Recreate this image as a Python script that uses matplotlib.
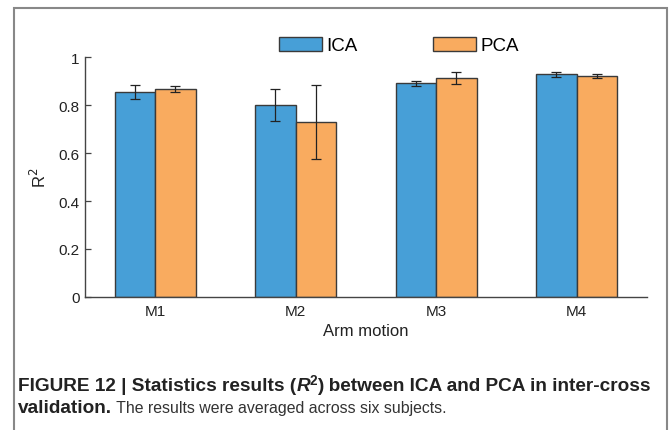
import matplotlib
matplotlib.use('Agg')
import matplotlib.pyplot as plt
import numpy as np
from matplotlib import font_manager
from matplotlib.patches import Rectangle

plt.rcParams['font.family'] = ['Liberation Sans', 'DejaVu Sans']

motions = ['M1', 'M2', 'M3', 'M4']
ica_mean = [0.855, 0.800, 0.890, 0.928]
ica_err = [0.028, 0.068, 0.012, 0.010]
pca_mean = [0.867, 0.730, 0.911, 0.922]
pca_err = [0.013, 0.155, 0.025, 0.009]

blue = '#479fd7'
orange = '#f9ab5f'
edge = '#3a3a3a'

fig = plt.figure(figsize=(6.69, 4.31), dpi=100)
ax = fig.add_axes([0.127, 0.3086, 0.840, 0.5568])

x = np.arange(1, len(motions) + 1)
w = 0.288
ax.bar(x - w / 2, ica_mean, w, yerr=ica_err, color=blue, edgecolor=edge, linewidth=1,
       capsize=3.5, error_kw=dict(elinewidth=0.9, capthick=0.9, ecolor='#222222'), label='ICA')
ax.bar(x + w / 2, pca_mean, w, yerr=pca_err, color=orange, edgecolor=edge, linewidth=1,
       capsize=3.5, error_kw=dict(elinewidth=0.9, capthick=0.9, ecolor='#222222'), label='PCA')

ax.set_xlim(0.5, 4.5)
ax.set_ylim(0, 1)
ax.set_xticks(x)
ax.set_xticklabels(motions, fontsize=11, color='#222222')
ax.set_yticks(np.arange(0, 1.01, 0.2))
ax.set_yticklabels(['0', '0.2', '0.4', '0.6', '0.8', '1'], fontsize=11, color='#222222')
ax.tick_params(axis='x', length=0, pad=5)
ax.tick_params(axis='y', direction='in', length=4, width=0.9, colors='#444444', labelcolor='#222222', pad=4)
for s in ['top', 'right']:
    ax.spines[s].set_visible(False)
for s in ['left', 'bottom']:
    ax.spines[s].set_color('#444444')
    ax.spines[s].set_linewidth(1)

ax.set_xlabel('Arm motion', fontsize=12, color='#222222', labelpad=4)
ax.set_ylabel('R$^2$', fontsize=12, color='#222222', labelpad=7)

ax.legend(loc='center', bbox_to_anchor=(0.559, 1.048), ncol=2, frameon=False,
          fontsize=13.5, handlelength=2.3, handleheight=0.85, handletextpad=0.25,
          columnspacing=4.0, borderpad=0, borderaxespad=0)

# outer frame
fig.patches.append(Rectangle((14 / 669, -0.05), (667 - 14) / 669, 1.05 - 9 / 431,
                             transform=fig.transFigure, fill=False, edgecolor='#888888',
                             linewidth=1.5))

cap_family = ['Liberation Sans', 'DejaVu Sans']

fig.canvas.draw()
renderer = fig.canvas.get_renderer()


def runs(parts, x0, y0, size):
    xp = x0
    made = []
    for s, kw in parts:
        kw = dict(kw)
        dy = kw.pop('dy', 0)
        scale = kw.pop('scale', 1.0)
        color = kw.pop('color', '#222222')
        t = fig.text(xp / 669, (431 - y0 + dy) / 431, s, fontsize=size * scale,
                     family=cap_family, color=color, va='baseline', ha='left', **kw)
        made.append(t)
        xp = t.get_window_extent(renderer).x1
    return made, xp


line1 = [('FIGURE 12 | Statistics results (', dict(weight='bold')),
         ('R', dict(weight='bold', style='italic')),
         ('2', dict(weight='bold', scale=0.72, dy=6)),
         (') between ICA and PCA in inter-cross', dict(weight='bold'))]

# fit first line to the caption width
cap = 12.0
made, xend = runs(line1, 18, 391, cap)
for t in made:
    t.remove()
cap = cap * (648 - 18) / (xend - 18)
runs(line1, 18, 391, cap)

runs([('validation.', dict(weight='bold')),
      (' The results were averaged across six subjects.', dict(scale=0.84, color='#333333'))],
     18, 413, cap)

fig.savefig('out.png', dpi=100)
